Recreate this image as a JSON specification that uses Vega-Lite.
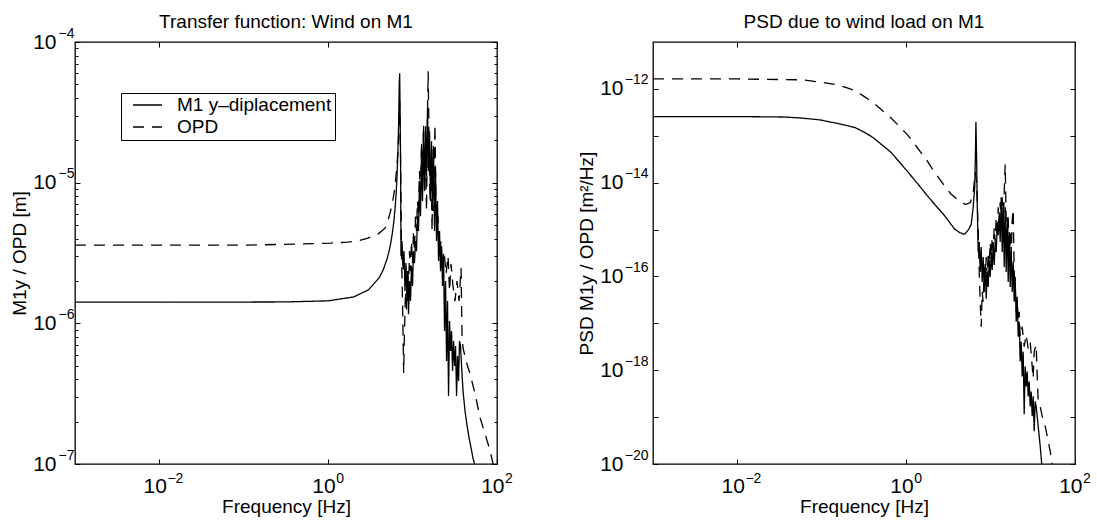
{
  "$schema": "https://vega.github.io/schema/vega-lite/v6.json",
  "background": "white",
  "padding": {"left": 9, "top": 11, "right": 0, "bottom": 0},
  "bounds": "flush",
  "spacing": 156,
  "config": {
    "font": "Liberation Sans",
    "view": {"stroke": "black", "strokeWidth": 1.3},
    "axis": {"domain": false, "grid": false, "tickColor": "black", "tickWidth": 1, "labelColor": "black", "labelFont": "Liberation Sans", "labelFontSize": 21, "titleFont": "Liberation Sans", "titleFontSize": 19, "titleFontWeight": "normal", "titleColor": "black", "labelOverlap": false, "labelFlush": false, "labelBound": false},
    "title": {"font": "Liberation Sans", "fontSize": 19, "fontWeight": "normal", "color": "black", "baseline": "alphabetic"},
    "legend": {"labelFont": "Liberation Sans", "labelFontSize": 19, "labelColor": "black", "strokeColor": "black", "fillColor": "white", "padding": 3, "rowPadding": 3, "symbolType": "stroke", "symbolSize": 841, "symbolStrokeWidth": 1.3, "symbolStrokeColor": "black", "labelOffset": 14, "symbolOffset": 8, "clipHeight": 18}
  },
  "datasets": {
    "tf": [
      {"s": "M1 y–diplacement", "f": 0.001, "v": 1.416e-6},
      {"s": "M1 y–diplacement", "f": 0.01, "v": 1.416e-6},
      {"s": "M1 y–diplacement", "f": 0.1, "v": 1.417e-6},
      {"s": "M1 y–diplacement", "f": 0.3, "v": 1.419e-6},
      {"s": "M1 y–diplacement", "f": 1, "v": 1.445e-6},
      {"s": "M1 y–diplacement", "f": 2, "v": 1.54e-6},
      {"s": "M1 y–diplacement", "f": 3, "v": 1.73e-6},
      {"s": "M1 y–diplacement", "f": 4, "v": 2.10e-6},
      {"s": "M1 y–diplacement", "f": 4.5, "v": 2.41e-6},
      {"s": "M1 y–diplacement", "f": 5, "v": 2.89e-6},
      {"s": "M1 y–diplacement", "f": 5.25, "v": 3.24e-6},
      {"s": "M1 y–diplacement", "f": 5.5, "v": 3.70e-6},
      {"s": "M1 y–diplacement", "f": 5.75, "v": 4.35e-6},
      {"s": "M1 y–diplacement", "f": 6, "v": 5.34e-6},
      {"s": "M1 y–diplacement", "f": 6.2, "v": 6.57e-6},
      {"s": "M1 y–diplacement", "f": 6.4, "v": 8.6e-6},
      {"s": "M1 y–diplacement", "f": 6.55, "v": 1.14e-5},
      {"s": "M1 y–diplacement", "f": 6.7, "v": 1.69e-5},
      {"s": "M1 y–diplacement", "f": 6.8, "v": 2.33e-5},
      {"s": "M1 y–diplacement", "f": 6.85, "v": 2.93e-5},
      {"s": "M1 y–diplacement", "f": 6.9, "v": 3.86e-5},
      {"s": "M1 y–diplacement", "f": 6.95, "v": 5.1e-5},
      {"s": "M1 y–diplacement", "f": 7.03, "v": 6.0e-5},
      {"s": "M1 y–diplacement", "f": 7.1, "v": 3.5e-5},
      {"s": "M1 y–diplacement", "f": 7.2, "v": 1.5e-5},
      {"s": "M1 y–diplacement", "f": 7.29, "v": 3.01e-6},
      {"s": "M1 y–diplacement", "f": 7.49, "v": 3.85e-6},
      {"s": "M1 y–diplacement", "f": 7.69, "v": 2.43e-6},
      {"s": "M1 y–diplacement", "f": 7.91, "v": 3.26e-6},
      {"s": "M1 y–diplacement", "f": 8.12, "v": 1.69e-6},
      {"s": "M1 y–diplacement", "f": 8.35, "v": 2.68e-6},
      {"s": "M1 y–diplacement", "f": 8.58, "v": 1.44e-6},
      {"s": "M1 y–diplacement", "f": 8.82, "v": 2.35e-6},
      {"s": "M1 y–diplacement", "f": 8.94, "v": 1.16e-6},
      {"s": "M1 y–diplacement", "f": 9.19, "v": 2.00e-6},
      {"s": "M1 y–diplacement", "f": 9.44, "v": 1.44e-6},
      {"s": "M1 y–diplacement", "f": 9.70, "v": 2.55e-6},
      {"s": "M1 y–diplacement", "f": 9.97, "v": 1.84e-6},
      {"s": "M1 y–diplacement", "f": 10.25, "v": 3.26e-6},
      {"s": "M1 y–diplacement", "f": 10.53, "v": 2.68e-6},
      {"s": "M1 y–diplacement", "f": 10.82, "v": 3.85e-6},
      {"s": "M1 y–diplacement", "f": 11.12, "v": 3.26e-6},
      {"s": "M1 y–diplacement", "f": 11.43, "v": 5.78e-6},
      {"s": "M1 y–diplacement", "f": 11.75, "v": 4.53e-6},
      {"s": "M1 y–diplacement", "f": 12.07, "v": 1.03e-5},
      {"s": "M1 y–diplacement", "f": 12.41, "v": 5.78e-6},
      {"s": "M1 y–diplacement", "f": 12.75, "v": 1.68e-5},
      {"s": "M1 y–diplacement", "f": 13.10, "v": 7.40e-6},
      {"s": "M1 y–diplacement", "f": 13.47, "v": 2.32e-5},
      {"s": "M1 y–diplacement", "f": 13.84, "v": 8.71e-6},
      {"s": "M1 y–diplacement", "f": 14.22, "v": 2.52e-5},
      {"s": "M1 y–diplacement", "f": 14.62, "v": 1.11e-5},
      {"s": "M1 y–diplacement", "f": 15.02, "v": 3.33e-5},
      {"s": "M1 y–diplacement", "f": 15.44, "v": 1.21e-5},
      {"s": "M1 y–diplacement", "f": 15.87, "v": 2.32e-5},
      {"s": "M1 y–diplacement", "f": 16.30, "v": 7.40e-6},
      {"s": "M1 y–diplacement", "f": 16.76, "v": 1.97e-5},
      {"s": "M1 y–diplacement", "f": 17.22, "v": 6.28e-6},
      {"s": "M1 y–diplacement", "f": 17.70, "v": 1.82e-5},
      {"s": "M1 y–diplacement", "f": 18.19, "v": 4.53e-6},
      {"s": "M1 y–diplacement", "f": 18.69, "v": 1.21e-5},
      {"s": "M1 y–diplacement", "f": 19.21, "v": 3.85e-6},
      {"s": "M1 y–diplacement", "f": 19.74, "v": 7.40e-6},
      {"s": "M1 y–diplacement", "f": 20.29, "v": 2.77e-6},
      {"s": "M1 y–diplacement", "f": 20.85, "v": 4.53e-6},
      {"s": "M1 y–diplacement", "f": 21.43, "v": 2.35e-6},
      {"s": "M1 y–diplacement", "f": 22.02, "v": 3.54e-6},
      {"s": "M1 y–diplacement", "f": 22.63, "v": 1.84e-6},
      {"s": "M1 y–diplacement", "f": 23.26, "v": 3.01e-6},
      {"s": "M1 y–diplacement", "f": 23.90, "v": 8.81e-7},
      {"s": "M1 y–diplacement", "f": 24.57, "v": 2.00e-6},
      {"s": "M1 y–diplacement", "f": 25.25, "v": 5.39e-7},
      {"s": "M1 y–diplacement", "f": 25.94, "v": 1.44e-6},
      {"s": "M1 y–diplacement", "f": 26.66, "v": 3.05e-7},
      {"s": "M1 y–diplacement", "f": 27.40, "v": 1.04e-6},
      {"s": "M1 y–diplacement", "f": 28.16, "v": 6.35e-7},
      {"s": "M1 y–diplacement", "f": 28.94, "v": 8.81e-7},
      {"s": "M1 y–diplacement", "f": 29.74, "v": 4.58e-7},
      {"s": "M1 y–diplacement", "f": 30.56, "v": 7.48e-7},
      {"s": "M1 y–diplacement", "f": 31.41, "v": 4.97e-7},
      {"s": "M1 y–diplacement", "f": 32.28, "v": 6.89e-7},
      {"s": "M1 y–diplacement", "f": 33.17, "v": 3.05e-7},
      {"s": "M1 y–diplacement", "f": 34.09, "v": 5.85e-7},
      {"s": "M1 y–diplacement", "f": 35.03, "v": 3.89e-7},
      {"s": "M1 y–diplacement", "f": 36.00, "v": 7.48e-7},
      {"s": "M1 y–diplacement", "f": 37.00, "v": 6.89e-7},
      {"s": "M1 y–diplacement", "f": 38.02, "v": 4.97e-7},
      {"s": "M1 y–diplacement", "f": 39.6, "v": 3.30e-7},
      {"s": "M1 y–diplacement", "f": 41.8, "v": 2.38e-7},
      {"s": "M1 y–diplacement", "f": 44.2, "v": 1.87e-7},
      {"s": "M1 y–diplacement", "f": 46.7, "v": 1.53e-7},
      {"s": "M1 y–diplacement", "f": 49.3, "v": 1.30e-7},
      {"s": "M1 y–diplacement", "f": 52.1, "v": 1.09e-7},
      {"s": "M1 y–diplacement", "f": 54.2, "v": 1.0e-7},
      {"s": "OPD", "f": 0.001, "v": 3.60e-6},
      {"s": "OPD", "f": 0.1115, "v": 3.60e-6},
      {"s": "OPD", "f": 0.437, "v": 3.66e-6},
      {"s": "OPD", "f": 1.08, "v": 3.72e-6},
      {"s": "OPD", "f": 1.71, "v": 3.78e-6},
      {"s": "OPD", "f": 2.25, "v": 3.85e-6},
      {"s": "OPD", "f": 2.96, "v": 4.04e-6},
      {"s": "OPD", "f": 3.89, "v": 4.31e-6},
      {"s": "OPD", "f": 4.71, "v": 4.75e-6},
      {"s": "OPD", "f": 5.1, "v": 5.35e-6},
      {"s": "OPD", "f": 5.40, "v": 6.07e-6},
      {"s": "OPD", "f": 5.75, "v": 7.1e-6},
      {"s": "OPD", "f": 6.02, "v": 8.41e-6},
      {"s": "OPD", "f": 6.25, "v": 1.0e-5},
      {"s": "OPD", "f": 6.44, "v": 1.21e-5},
      {"s": "OPD", "f": 6.65, "v": 1.55e-5},
      {"s": "OPD", "f": 6.80, "v": 1.97e-5},
      {"s": "OPD", "f": 6.92, "v": 2.6e-5},
      {"s": "OPD", "f": 7.03, "v": 3.79e-5},
      {"s": "OPD", "f": 7.19, "v": 1.68e-5},
      {"s": "OPD", "f": 7.38, "v": 3.26e-6},
      {"s": "OPD", "f": 7.59, "v": 1.44e-6},
      {"s": "OPD", "f": 7.84, "v": 4.43e-7},
      {"s": "OPD", "f": 8.01, "v": 8.81e-7},
      {"s": "OPD", "f": 8.24, "v": 1.69e-6},
      {"s": "OPD", "f": 8.47, "v": 1.22e-6},
      {"s": "OPD", "f": 8.70, "v": 2.35e-6},
      {"s": "OPD", "f": 8.94, "v": 1.69e-6},
      {"s": "OPD", "f": 9.19, "v": 3.26e-6},
      {"s": "OPD", "f": 9.44, "v": 2.35e-6},
      {"s": "OPD", "f": 9.70, "v": 3.85e-6},
      {"s": "OPD", "f": 9.97, "v": 2.68e-6},
      {"s": "OPD", "f": 10.25, "v": 4.53e-6},
      {"s": "OPD", "f": 10.53, "v": 3.26e-6},
      {"s": "OPD", "f": 10.82, "v": 5.78e-6},
      {"s": "OPD", "f": 11.12, "v": 4.53e-6},
      {"s": "OPD", "f": 11.43, "v": 7.40e-6},
      {"s": "OPD", "f": 11.75, "v": 5.78e-6},
      {"s": "OPD", "f": 12.07, "v": 1.21e-5},
      {"s": "OPD", "f": 12.41, "v": 7.40e-6},
      {"s": "OPD", "f": 12.75, "v": 1.97e-5},
      {"s": "OPD", "f": 13.10, "v": 1.03e-5},
      {"s": "OPD", "f": 13.47, "v": 2.60e-5},
      {"s": "OPD", "f": 13.84, "v": 8.71e-6},
      {"s": "OPD", "f": 14.22, "v": 1.68e-5},
      {"s": "OPD", "f": 14.62, "v": 6.28e-6},
      {"s": "OPD", "f": 15.02, "v": 3.22e-5},
      {"s": "OPD", "f": 15.3, "v": 6.19e-5},
      {"s": "OPD", "f": 15.7, "v": 1.68e-5},
      {"s": "OPD", "f": 16.1, "v": 7.40e-6},
      {"s": "OPD", "f": 16.5, "v": 1.42e-5},
      {"s": "OPD", "f": 17.0, "v": 4.53e-6},
      {"s": "OPD", "f": 17.5, "v": 1.73e-5},
      {"s": "OPD", "f": 17.9, "v": 6.28e-6},
      {"s": "OPD", "f": 18.4, "v": 2.60e-5},
      {"s": "OPD", "f": 18.9, "v": 7.40e-6},
      {"s": "OPD", "f": 19.5, "v": 4.53e-6},
      {"s": "OPD", "f": 20.0, "v": 5.78e-6},
      {"s": "OPD", "f": 20.6, "v": 3.54e-6},
      {"s": "OPD", "f": 21.1, "v": 3.26e-6},
      {"s": "OPD", "f": 21.7, "v": 3.85e-6},
      {"s": "OPD", "f": 22.6, "v": 2.55e-6},
      {"s": "OPD", "f": 23.6, "v": 3.26e-6},
      {"s": "OPD", "f": 24.9, "v": 2.24e-6},
      {"s": "OPD", "f": 26.3, "v": 3.01e-6},
      {"s": "OPD", "f": 27.4, "v": 1.69e-6},
      {"s": "OPD", "f": 28.5, "v": 2.64e-6},
      {"s": "OPD", "f": 30.1, "v": 1.84e-6},
      {"s": "OPD", "f": 31.8, "v": 1.44e-6},
      {"s": "OPD", "f": 33.6, "v": 2.00e-6},
      {"s": "OPD", "f": 35.5, "v": 1.44e-6},
      {"s": "OPD", "f": 37.5, "v": 2.47e-6},
      {"s": "OPD", "f": 38.5, "v": 8.39e-7},
      {"s": "OPD", "f": 39.6, "v": 6.68e-7},
      {"s": "OPD", "f": 43.0, "v": 5.39e-7},
      {"s": "OPD", "f": 48.0, "v": 4.36e-7},
      {"s": "OPD", "f": 55.0, "v": 3.15e-7},
      {"s": "OPD", "f": 63.0, "v": 2.13e-7},
      {"s": "OPD", "f": 72.2, "v": 1.64e-7},
      {"s": "OPD", "f": 82.8, "v": 1.24e-7},
      {"s": "OPD", "f": 89.9, "v": 1.0e-7}
    ],
    "psd": [
      {"s": "M1 y–diplacement", "f": 0.001, "v": 2.56e-13},
      {"s": "M1 y–diplacement", "f": 0.01, "v": 2.56e-13},
      {"s": "M1 y–diplacement", "f": 0.02, "v": 2.54e-13},
      {"s": "M1 y–diplacement", "f": 0.0358, "v": 2.51e-13},
      {"s": "M1 y–diplacement", "f": 0.0562, "v": 2.40e-13},
      {"s": "M1 y–diplacement", "f": 0.0957, "v": 2.18e-13},
      {"s": "M1 y–diplacement", "f": 0.12, "v": 2.00e-13},
      {"s": "M1 y–diplacement", "f": 0.148, "v": 1.86e-13},
      {"s": "M1 y–diplacement", "f": 0.19, "v": 1.68e-13},
      {"s": "M1 y–diplacement", "f": 0.249, "v": 1.49e-13},
      {"s": "M1 y–diplacement", "f": 0.316, "v": 1.20e-13},
      {"s": "M1 y–diplacement", "f": 0.406, "v": 9.16e-14},
      {"s": "M1 y–diplacement", "f": 0.513, "v": 6.46e-14},
      {"s": "M1 y–diplacement", "f": 0.664, "v": 4.40e-14},
      {"s": "M1 y–diplacement", "f": 0.832, "v": 2.75e-14},
      {"s": "M1 y–diplacement", "f": 1.056, "v": 1.66e-14},
      {"s": "M1 y–diplacement", "f": 1.35, "v": 9.77e-15},
      {"s": "M1 y–diplacement", "f": 1.726, "v": 5.65e-15},
      {"s": "M1 y–diplacement", "f": 2.19, "v": 3.39e-15},
      {"s": "M1 y–diplacement", "f": 2.82, "v": 2.02e-15},
      {"s": "M1 y–diplacement", "f": 3.31, "v": 1.38e-15},
      {"s": "M1 y–diplacement", "f": 3.75, "v": 1.02e-15},
      {"s": "M1 y–diplacement", "f": 4.27, "v": 8.71e-16},
      {"s": "M1 y–diplacement", "f": 4.77, "v": 7.98e-16},
      {"s": "M1 y–diplacement", "f": 5.01, "v": 8.13e-16},
      {"s": "M1 y–diplacement", "f": 5.52, "v": 1.02e-15},
      {"s": "M1 y–diplacement", "f": 5.89, "v": 1.30e-15},
      {"s": "M1 y–diplacement", "f": 6.22, "v": 2.99e-15},
      {"s": "M1 y–diplacement", "f": 6.48, "v": 7.94e-15},
      {"s": "M1 y–diplacement", "f": 6.62, "v": 4.40e-14},
      {"s": "M1 y–diplacement", "f": 6.70, "v": 2.00e-13},
      {"s": "M1 y–diplacement", "f": 6.84, "v": 2.70e-14},
      {"s": "M1 y–diplacement", "f": 6.94, "v": 3.82e-15},
      {"s": "M1 y–diplacement", "f": 7.13, "v": 3.31e-16},
      {"s": "M1 y–diplacement", "f": 7.33, "v": 5.40e-16},
      {"s": "M1 y–diplacement", "f": 7.53, "v": 1.25e-16},
      {"s": "M1 y–diplacement", "f": 7.74, "v": 4.23e-16},
      {"s": "M1 y–diplacement", "f": 7.95, "v": 7.64e-17},
      {"s": "M1 y–diplacement", "f": 8.17, "v": 2.59e-16},
      {"s": "M1 y–diplacement", "f": 8.40, "v": 4.69e-17},
      {"s": "M1 y–diplacement", "f": 8.63, "v": 1.84e-16},
      {"s": "M1 y–diplacement", "f": 8.87, "v": 3.33e-17},
      {"s": "M1 y–diplacement", "f": 9.11, "v": 1.25e-16},
      {"s": "M1 y–diplacement", "f": 9.37, "v": 5.98e-17},
      {"s": "M1 y–diplacement", "f": 9.62, "v": 2.24e-16},
      {"s": "M1 y–diplacement", "f": 9.89, "v": 9.76e-17},
      {"s": "M1 y–diplacement", "f": 10.17, "v": 3.31e-16},
      {"s": "M1 y–diplacement", "f": 10.44, "v": 1.37e-16},
      {"s": "M1 y–diplacement", "f": 10.74, "v": 5.40e-16},
      {"s": "M1 y–diplacement", "f": 11.03, "v": 1.75e-16},
      {"s": "M1 y–diplacement", "f": 11.34, "v": 5.40e-16},
      {"s": "M1 y–diplacement", "f": 11.65, "v": 3.31e-16},
      {"s": "M1 y–diplacement", "f": 11.97, "v": 1.12e-15},
      {"s": "M1 y–diplacement", "f": 12.30, "v": 7.60e-16},
      {"s": "M1 y–diplacement", "f": 12.65, "v": 2.34e-15},
      {"s": "M1 y–diplacement", "f": 12.99, "v": 5.40e-16},
      {"s": "M1 y–diplacement", "f": 13.36, "v": 4.88e-15},
      {"s": "M1 y–diplacement", "f": 13.72, "v": 3.31e-16},
      {"s": "M1 y–diplacement", "f": 14.11, "v": 3.82e-15},
      {"s": "M1 y–diplacement", "f": 14.49, "v": 1.59e-16},
      {"s": "M1 y–diplacement", "f": 14.89, "v": 2.99e-15},
      {"s": "M1 y–diplacement", "f": 15.30, "v": 1.25e-16},
      {"s": "M1 y–diplacement", "f": 15.73, "v": 1.83e-15},
      {"s": "M1 y–diplacement", "f": 16.16, "v": 7.64e-17},
      {"s": "M1 y–diplacement", "f": 16.61, "v": 8.81e-16},
      {"s": "M1 y–diplacement", "f": 17.07, "v": 5.98e-17},
      {"s": "M1 y–diplacement", "f": 17.54, "v": 4.23e-16},
      {"s": "M1 y–diplacement", "f": 18.03, "v": 4.69e-17},
      {"s": "M1 y–diplacement", "f": 18.52, "v": 2.03e-16},
      {"s": "M1 y–diplacement", "f": 19.04, "v": 2.88e-17},
      {"s": "M1 y–diplacement", "f": 19.56, "v": 9.76e-17},
      {"s": "M1 y–diplacement", "f": 20.11, "v": 1.08e-17},
      {"s": "M1 y–diplacement", "f": 20.66, "v": 3.67e-17},
      {"s": "M1 y–diplacement", "f": 21.23, "v": 5.19e-18},
      {"s": "M1 y–diplacement", "f": 21.82, "v": 1.08e-17},
      {"s": "M1 y–diplacement", "f": 22.42, "v": 1.53e-18},
      {"s": "M1 y–diplacement", "f": 23.04, "v": 4.06e-18},
      {"s": "M1 y–diplacement", "f": 23.68, "v": 7.35e-19},
      {"s": "M1 y–diplacement", "f": 24.33, "v": 2.49e-18},
      {"s": "M1 y–diplacement", "f": 25.00, "v": 1.15e-19},
      {"s": "M1 y–diplacement", "f": 25.70, "v": 1.20e-18},
      {"s": "M1 y–diplacement", "f": 26.41, "v": 4.51e-19},
      {"s": "M1 y–diplacement", "f": 27.14, "v": 9.38e-19},
      {"s": "M1 y–diplacement", "f": 27.89, "v": 2.77e-19},
      {"s": "M1 y–diplacement", "f": 28.66, "v": 5.75e-19},
      {"s": "M1 y–diplacement", "f": 29.45, "v": 1.69e-19},
      {"s": "M1 y–diplacement", "f": 30.27, "v": 3.53e-19},
      {"s": "M1 y–diplacement", "f": 31.11, "v": 1.04e-19},
      {"s": "M1 y–diplacement", "f": 31.96, "v": 2.77e-19},
      {"s": "M1 y–diplacement", "f": 32.85, "v": 5.00e-20},
      {"s": "M1 y–diplacement", "f": 33.76, "v": 2.16e-19},
      {"s": "M1 y–diplacement", "f": 34.69, "v": 1.69e-19},
      {"s": "M1 y–diplacement", "f": 36.64, "v": 6.38e-20},
      {"s": "M1 y–diplacement", "f": 38.70, "v": 2.40e-20},
      {"s": "M1 y–diplacement", "f": 40.33, "v": 1.0e-20},
      {"s": "OPD", "f": 0.001, "v": 1.64e-12},
      {"s": "OPD", "f": 0.01, "v": 1.63e-12},
      {"s": "OPD", "f": 0.0586, "v": 1.56e-12},
      {"s": "OPD", "f": 0.1, "v": 1.38e-12},
      {"s": "OPD", "f": 0.154, "v": 1.22e-12},
      {"s": "OPD", "f": 0.2, "v": 1.05e-12},
      {"s": "OPD", "f": 0.249, "v": 9.12e-13},
      {"s": "OPD", "f": 0.316, "v": 6.92e-13},
      {"s": "OPD", "f": 0.406, "v": 5.07e-13},
      {"s": "OPD", "f": 0.513, "v": 3.55e-13},
      {"s": "OPD", "f": 0.657, "v": 2.43e-13},
      {"s": "OPD", "f": 0.832, "v": 1.58e-13},
      {"s": "OPD", "f": 1.056, "v": 1.01e-13},
      {"s": "OPD", "f": 1.35, "v": 5.62e-14},
      {"s": "OPD", "f": 1.726, "v": 3.13e-14},
      {"s": "OPD", "f": 2.19, "v": 1.62e-14},
      {"s": "OPD", "f": 2.82, "v": 8.77e-15},
      {"s": "OPD", "f": 3.39, "v": 5.75e-15},
      {"s": "OPD", "f": 4.13, "v": 4.21e-15},
      {"s": "OPD", "f": 4.57, "v": 3.72e-15},
      {"s": "OPD", "f": 5.00, "v": 3.46e-15},
      {"s": "OPD", "f": 5.37, "v": 3.55e-15},
      {"s": "OPD", "f": 5.79, "v": 3.82e-15},
      {"s": "OPD", "f": 6.22, "v": 6.22e-15},
      {"s": "OPD", "f": 6.57, "v": 1.66e-14},
      {"s": "OPD", "f": 6.84, "v": 1.01e-14},
      {"s": "OPD", "f": 7.13, "v": 8.81e-16},
      {"s": "OPD", "f": 7.33, "v": 1.25e-16},
      {"s": "OPD", "f": 7.53, "v": 2.88e-17},
      {"s": "OPD", "f": 7.74, "v": 8.47e-18},
      {"s": "OPD", "f": 7.95, "v": 4.69e-17},
      {"s": "OPD", "f": 8.17, "v": 2.88e-17},
      {"s": "OPD", "f": 8.40, "v": 1.59e-16},
      {"s": "OPD", "f": 8.63, "v": 7.64e-17},
      {"s": "OPD", "f": 8.87, "v": 2.59e-16},
      {"s": "OPD", "f": 9.11, "v": 9.76e-17},
      {"s": "OPD", "f": 9.37, "v": 3.31e-16},
      {"s": "OPD", "f": 9.62, "v": 1.59e-16},
      {"s": "OPD", "f": 9.89, "v": 5.40e-16},
      {"s": "OPD", "f": 10.17, "v": 2.59e-16},
      {"s": "OPD", "f": 10.44, "v": 6.90e-16},
      {"s": "OPD", "f": 10.74, "v": 3.65e-16},
      {"s": "OPD", "f": 11.03, "v": 1.12e-15},
      {"s": "OPD", "f": 11.34, "v": 5.40e-16},
      {"s": "OPD", "f": 11.65, "v": 1.83e-15},
      {"s": "OPD", "f": 11.97, "v": 6.90e-16},
      {"s": "OPD", "f": 12.30, "v": 2.99e-15},
      {"s": "OPD", "f": 12.65, "v": 8.81e-16},
      {"s": "OPD", "f": 12.99, "v": 3.82e-15},
      {"s": "OPD", "f": 13.36, "v": 1.12e-15},
      {"s": "OPD", "f": 13.72, "v": 4.88e-15},
      {"s": "OPD", "f": 14.11, "v": 5.40e-16},
      {"s": "OPD", "f": 14.49, "v": 6.22e-15},
      {"s": "OPD", "f": 14.89, "v": 2.45e-14},
      {"s": "OPD", "f": 15.30, "v": 1.44e-15},
      {"s": "OPD", "f": 15.73, "v": 3.31e-16},
      {"s": "OPD", "f": 16.16, "v": 1.83e-15},
      {"s": "OPD", "f": 16.61, "v": 2.03e-16},
      {"s": "OPD", "f": 17.07, "v": 8.81e-16},
      {"s": "OPD", "f": 17.54, "v": 2.59e-16},
      {"s": "OPD", "f": 18.03, "v": 1.58e-15},
      {"s": "OPD", "f": 18.52, "v": 2.71e-15},
      {"s": "OPD", "f": 19.04, "v": 1.25e-16},
      {"s": "OPD", "f": 19.56, "v": 5.98e-17},
      {"s": "OPD", "f": 20.11, "v": 1.76e-17},
      {"s": "OPD", "f": 20.66, "v": 2.88e-17},
      {"s": "OPD", "f": 21.23, "v": 1.08e-17},
      {"s": "OPD", "f": 21.82, "v": 1.76e-17},
      {"s": "OPD", "f": 22.42, "v": 5.19e-18},
      {"s": "OPD", "f": 23.68, "v": 8.47e-18},
      {"s": "OPD", "f": 25.00, "v": 3.18e-18},
      {"s": "OPD", "f": 26.41, "v": 5.73e-18},
      {"s": "OPD", "f": 27.89, "v": 2.89e-18},
      {"s": "OPD", "f": 29.45, "v": 4.06e-18},
      {"s": "OPD", "f": 31.11, "v": 1.20e-18},
      {"s": "OPD", "f": 31.96, "v": 6.67e-19},
      {"s": "OPD", "f": 32.85, "v": 2.49e-18},
      {"s": "OPD", "f": 34.69, "v": 3.51e-18},
      {"s": "OPD", "f": 35.65, "v": 7.35e-19},
      {"s": "OPD", "f": 36.64, "v": 2.16e-19},
      {"s": "OPD", "f": 38.70, "v": 1.69e-19},
      {"s": "OPD", "f": 40.88, "v": 1.04e-19},
      {"s": "OPD", "f": 43.17, "v": 8.15e-20},
      {"s": "OPD", "f": 45.60, "v": 5.00e-20},
      {"s": "OPD", "f": 48.15, "v": 3.06e-20},
      {"s": "OPD", "f": 50.84, "v": 1.88e-20},
      {"s": "OPD", "f": 53.70, "v": 1.0e-20}
    ]
  },
  "hconcat": [
    {
      "width": 422,
      "height": 422,
      "title": {"text": "Transfer function: Wind on M1", "offset": -6},
      "layer": [
        {
          "data": {"name": "tf"},
          "mark": {"type": "line", "color": "black", "strokeWidth": 1.3, "clip": true},
          "encoding": {
            "x": {"field": "f", "type": "quantitative", "scale": {"type": "log", "domain": [0.001, 100]},
              "axis": {"orient": "bottom", "values": [0.01, 1, 100], "tickSize": -5, "labelPadding": 16, "labelAlign": "right", "labelOffset": 7, "titlePadding": 1.5, "title": "Frequency [Hz]", "labelExpr": "'10'"}},
            "y": {"field": "v", "type": "quantitative", "scale": {"type": "log", "domain": [1e-7, 1e-4]},
              "axis": {"orient": "left", "values": [1e-7, 1e-6, 1e-5, 1e-4], "tickSize": -5, "labelPadding": 24, "titlePadding": 3, "title": "M1y / OPD [m]", "labelExpr": "'10'"}},
            "strokeDash": {"field": "s", "type": "nominal",
              "scale": {"domain": ["M1 y–diplacement", "OPD"], "range": [[1, 0], [11, 8]]},
              "legend": {"orient": "none", "legendX": 46, "legendY": 51, "title": null, "symbolType": "stroke"}}
          }
        },
        {
          "data": {"values": []},
          "mark": {"type": "point", "opacity": 0},
          "encoding": {
            "x": {"field": "f", "type": "quantitative", "scale": {"type": "log", "domain": [0.001, 100]},
              "axis": {"orient": "bottom", "values": [0.01, 1, 100], "tickSize": 0, "tickOpacity": 0, "labelPadding": 7.5, "labelAlign": "left", "labelOffset": 7.5, "labelFontSize": 14, "title": null,
                "labelExpr": "round(log(datum.value)/LN10) == 0 ? '0' : round(log(datum.value)/LN10) < 0 ? '−' + abs(round(log(datum.value)/LN10)) : '' + round(log(datum.value)/LN10)"}},
            "y": {"field": "v", "type": "quantitative", "scale": {"type": "log", "domain": [1e-7, 1e-4]},
              "axis": {"orient": "left", "values": [1e-7, 1e-6, 1e-5, 1e-4], "tickSize": 0, "tickOpacity": 0, "labelPadding": 1, "labelOffset": -9, "labelFontSize": 14, "title": null,
                "labelExpr": "'−' + abs(round(log(datum.value)/LN10))"}}
          }
        },
        {
          "data": {"values": []},
          "mark": {"type": "point", "opacity": 0},
          "encoding": {
            "x": {"field": "f", "type": "quantitative", "scale": {"type": "log", "domain": [0.001, 100]},
              "axis": {"orient": "top", "values": [0.01, 1, 100], "tickSize": -5, "labels": false, "title": null}},
            "y": {"field": "v", "type": "quantitative", "scale": {"type": "log", "domain": [1e-7, 1e-4]},
              "axis": {"orient": "right", "values": [1e-7, 1e-6, 1e-5, 1e-4], "tickSize": -5, "labels": false, "title": null}}
          }
        },
        {
          "data": {"values": []},
          "mark": {"type": "point", "opacity": 0},
          "encoding": {
            "x": {"field": "f", "type": "quantitative", "scale": {"type": "log", "domain": [0.001, 100]}, "axis": null},
            "y": {"field": "v", "type": "quantitative", "scale": {"type": "log", "domain": [1e-7, 1e-4]},
              "axis": {"orient": "left", "values": [2e-7, 3e-7, 4e-7, 5e-7, 6e-7, 7e-7, 8e-7, 9e-7, 2e-6, 3e-6, 4e-6, 5e-6, 6e-6, 7e-6, 8e-6, 9e-6, 2e-5, 3e-5, 4e-5, 5e-5, 6e-5, 7e-5, 8e-5, 9e-5], "tickSize": -3, "labels": false, "title": null}}
          }
        },
        {
          "data": {"values": []},
          "mark": {"type": "point", "opacity": 0},
          "encoding": {
            "x": {"field": "f", "type": "quantitative", "scale": {"type": "log", "domain": [0.001, 100]}, "axis": null},
            "y": {"field": "v", "type": "quantitative", "scale": {"type": "log", "domain": [1e-7, 1e-4]},
              "axis": {"orient": "right", "values": [2e-7, 3e-7, 4e-7, 5e-7, 6e-7, 7e-7, 8e-7, 9e-7, 2e-6, 3e-6, 4e-6, 5e-6, 6e-6, 7e-6, 8e-6, 9e-6, 2e-5, 3e-5, 4e-5, 5e-5, 6e-5, 7e-5, 8e-5, 9e-5], "tickSize": -3, "labels": false, "title": null}}
          }
        }
      ],
      "resolve": {"axis": {"x": "independent", "y": "independent"}}
    },
    {
      "width": 422,
      "height": 422,
      "title": {"text": "PSD due to wind load on M1", "offset": 10},
      "layer": [
        {
          "data": {"name": "psd"},
          "mark": {"type": "line", "color": "black", "strokeWidth": 1.3, "clip": true},
          "encoding": {
            "x": {"field": "f", "type": "quantitative", "scale": {"type": "log", "domain": [0.001, 100]},
              "axis": {"orient": "bottom", "values": [0.01, 1, 100], "tickSize": -5, "labelPadding": 16, "labelAlign": "right", "labelOffset": 7, "titlePadding": 1.5, "title": "Frequency [Hz]", "labelExpr": "'10'"}},
            "y": {"field": "v", "type": "quantitative", "scale": {"type": "log", "domain": [1e-20, 1e-11]},
              "axis": {"orient": "left", "values": [1e-20, 1e-19, 1e-18, 1e-17, 1e-16, 1e-15, 1e-14, 1e-13, 1e-12], "tickSize": -5, "labelPadding": 35, "titlePadding": 3, "title": "PSD M1y / OPD [m²/Hz]",
                "labelExpr": "round(log(datum.value)/LN10) % 2 == 0 ? '10' : ''"}},
            "strokeDash": {"field": "s", "type": "nominal",
              "scale": {"domain": ["M1 y–diplacement", "OPD"], "range": [[1, 0], [11, 8]]},
              "legend": null}
          }
        },
        {
          "data": {"values": []},
          "mark": {"type": "point", "opacity": 0},
          "encoding": {
            "x": {"field": "f", "type": "quantitative", "scale": {"type": "log", "domain": [0.001, 100]},
              "axis": {"orient": "bottom", "values": [0.01, 1, 100], "tickSize": 0, "tickOpacity": 0, "labelPadding": 7.5, "labelAlign": "left", "labelOffset": 7.5, "labelFontSize": 14, "title": null,
                "labelExpr": "round(log(datum.value)/LN10) == 0 ? '0' : round(log(datum.value)/LN10) < 0 ? '−' + abs(round(log(datum.value)/LN10)) : '' + round(log(datum.value)/LN10)"}},
            "y": {"field": "v", "type": "quantitative", "scale": {"type": "log", "domain": [1e-20, 1e-11]},
              "axis": {"orient": "left", "values": [1e-20, 1e-18, 1e-16, 1e-14, 1e-12], "tickSize": 0, "tickOpacity": 0, "labelPadding": 5, "labelOffset": -9, "labelFontSize": 14, "title": null,
                "labelExpr": "'−' + abs(round(log(datum.value)/LN10))"}}
          }
        },
        {
          "data": {"values": []},
          "mark": {"type": "point", "opacity": 0},
          "encoding": {
            "x": {"field": "f", "type": "quantitative", "scale": {"type": "log", "domain": [0.001, 100]},
              "axis": {"orient": "top", "values": [0.01, 1, 100], "tickSize": -5, "labels": false, "title": null}},
            "y": {"field": "v", "type": "quantitative", "scale": {"type": "log", "domain": [1e-20, 1e-11]},
              "axis": {"orient": "right", "values": [1e-20, 1e-19, 1e-18, 1e-17, 1e-16, 1e-15, 1e-14, 1e-13, 1e-12], "tickSize": -5, "labels": false, "title": null}}
          }
        }
      ],
      "resolve": {"axis": {"x": "independent", "y": "independent"}}
    }
  ]
}
